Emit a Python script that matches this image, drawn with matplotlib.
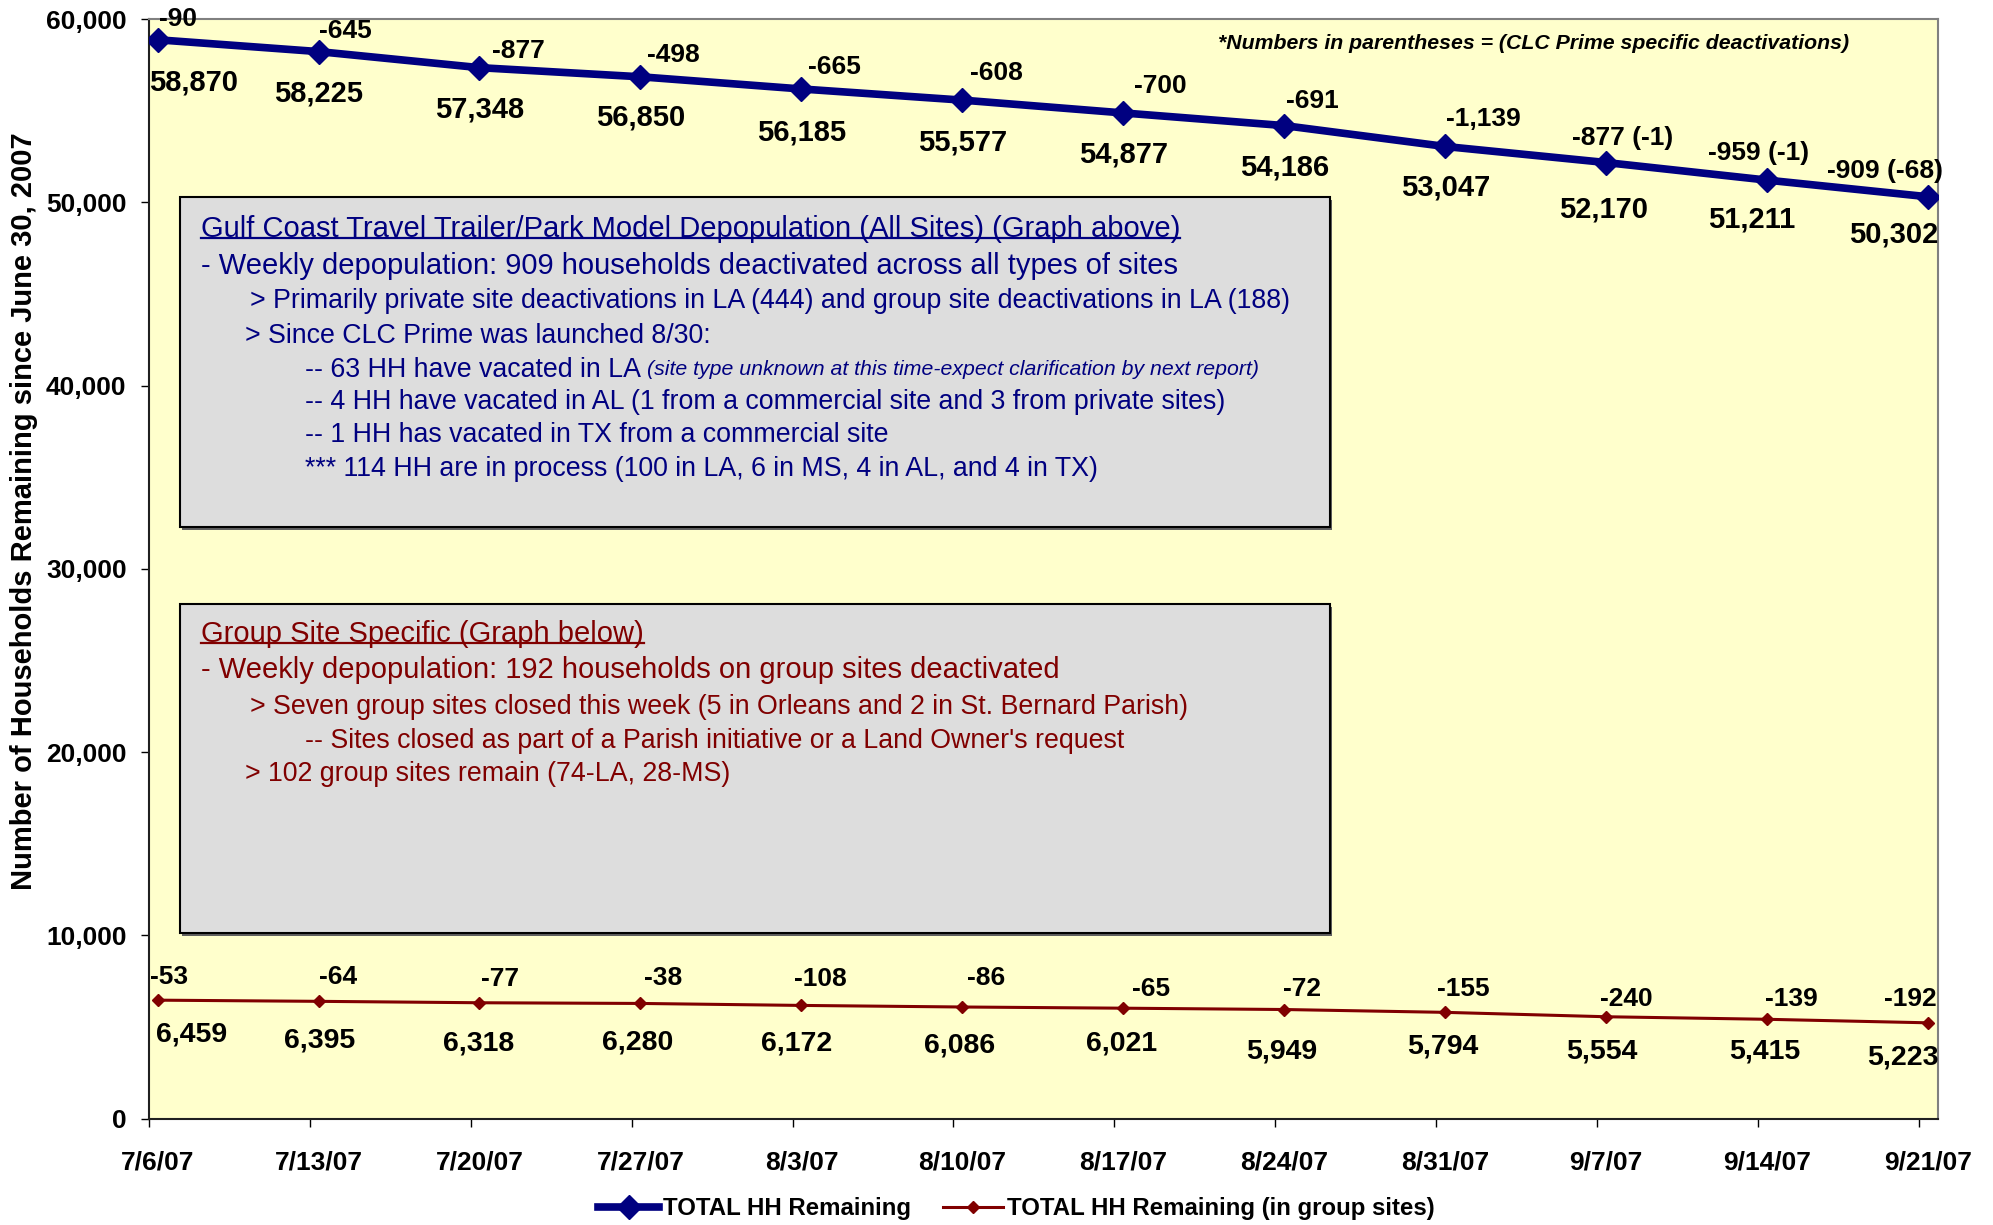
import matplotlib.pyplot as plt
from matplotlib.patches import Rectangle
from matplotlib.lines import Line2D
from matplotlib.ticker import FuncFormatter

plt.rcParams['font.family'] = ['Liberation Sans', 'DejaVu Sans']

# weekly data
weeks = ['7/6/07', '7/13/07', '7/20/07', '7/27/07', '8/3/07', '8/10/07',
         '8/17/07', '8/24/07', '8/31/07', '9/7/07', '9/14/07', '9/21/07']
total_hh = [58870, 58225, 57348, 56850, 56185, 55577,
            54877, 54186, 53047, 52170, 51211, 50302]
total_change = ['-90', '-645', '-877', '-498', '-665', '-608',
                '-700', '-691', '-1,139', '-877 (-1)', '-959 (-1)', '-909 (-68)']
group_hh = [6459, 6395, 6318, 6280, 6172, 6086,
            6021, 5949, 5794, 5554, 5415, 5223]
group_change = ['-53', '-64', '-77', '-38', '-108', '-86',
                '-65', '-72', '-155', '-240', '-139', '-192']

NAVY = '#000080'
MAROON = '#800000'
W, H = 1993, 1225
S = W / 1568  # positions below were measured on a 1568 px wide copy
DROP = 3      # digits sit a bit lower than the centre of their text box

# label offsets (dx, dy) in px of the small copy, dy positive = down
total_change_off = [(16, -19), (21, -19), (31, -16), (26, -20), (26, -20), (27, -24),
                    (29, -24), (22, -22), (30, -25), (13, -22), (-7, -24), (-34, -23)]
total_val_off = [(28, 31), (0, 30), (0, 30), (0, 29), (0, 31), (0, 30),
                 (0, 30), (0, 30), (0, 29), (-2, 34), (-12, 28), (-27, 27)]
group_change_off = [(9, -21), (15, -22), (16, -22), (18, -23), (15, -24), (19, -26),
                    (22, -18), (14, -19), (14, -21), (16, -17), (19, -19), (-14, -22)]
group_val_off = [(27, 24), (1, 28), (-1, 29), (-2, 28), (-4, 27), (-2, 27),
                 (-1, 25), (-2, 30), (-2, 24), (-3, 24), (-2, 22), (-20, 24)]


def fx(px):
    return px * S / W


def fy(py):
    return 1 - py * S / H


fig = plt.figure(figsize=(W / 100, H / 100), dpi=100)
ax = fig.add_axes([fx(117), fy(880), fx(1525) - fx(117), fy(15) - fy(880)])
ax.set_facecolor('#FFFFCC')

x = list(range(len(weeks)))
ax.plot(x, total_hh, color=NAVY, lw=5.5, marker='D', ms=12, label='TOTAL HH Remaining', zorder=3)
ax.plot(x, group_hh, color=MAROON, lw=2.2, marker='D', ms=6,
        label='TOTAL HH Remaining (in group sites)', zorder=3)

ax.set_ylim(0, 60000)
ax.set_xlim(-0.055, 11.064)
ax.set_yticks(range(0, 60001, 10000))
ax.yaxis.set_major_formatter(FuncFormatter(lambda v, p: f'{int(v):,}'))
for lab in ax.get_yticklabels():
    lab.set_fontweight('bold')
ax.tick_params(axis='y', labelsize=19, length=6, width=1, pad=10)

x0 = ax.get_xlim()[0]
ax.set_xticks([i + x0 for i in x])
ax.set_xticklabels([])
ax.set_xticks(x, minor=True)
ax.set_xticklabels(weeks, minor=True, fontsize=19, fontweight='bold')
ax.tick_params(axis='x', which='major', length=6, width=1)
ax.tick_params(axis='x', which='minor', length=0, pad=23)

for side in ['top', 'right']:
    ax.spines[side].set_color('#808080')
    ax.spines[side].set_linewidth(1.5)
for side in ['left', 'bottom']:
    ax.spines[side].set_color('#202020')
    ax.spines[side].set_linewidth(1.5)


def label(text, xv, yv, off, size):
    dx, dy = off
    ax.annotate(text, (xv, yv), xytext=(dx * S, -(dy + DROP) * S),
                textcoords='offset pixels', ha='center', va='center',
                fontsize=size, fontweight='bold')


for i in x:
    label(total_change[i], i, total_hh[i], total_change_off[i], 19)
    label(f'{total_hh[i]:,}', i, total_hh[i], total_val_off[i], 21)
    label(group_change[i], i, group_hh[i], group_change_off[i], 19)
    label(f'{group_hh[i]:,}', i, group_hh[i], group_val_off[i], 20.5)

fig.text(fx(19), fy(402), 'Number of Households Remaining since June 30, 2007',
         rotation=90, ha='center', va='center', fontsize=21, fontweight='bold')

fig.text(fx(958), fy(34), '*Numbers in parentheses = (CLC Prime specific deactivations)',
         ha='left', va='center', fontsize=15.3, fontweight='bold', style='italic')

fig.legend(loc='center', bbox_to_anchor=(fx(800), fy(951)), ncol=2, frameon=False,
           prop={'size': 17.3, 'weight': 'bold'}, handlelength=2.5, handletextpad=0.2,
           columnspacing=1.3)


def box(y_top, y_bot):
    shadow = Rectangle((fx(142) + 2 / W, fy(y_bot) - 3 / H), fx(1046) - fx(142), fy(y_top) - fy(y_bot),
                       transform=fig.transFigure, fc='#606060', ec='none', zorder=1)
    rect = Rectangle((fx(142), fy(y_bot)), fx(1046) - fx(142), fy(y_top) - fy(y_bot),
                     transform=fig.transFigure, fc='#DDDDDD', ec='black', lw=1.5, zorder=1.1)
    fig.add_artist(shadow)
    fig.add_artist(rect)


box(155, 415)
box(475, 734)

box1_lines = [
    (158, 178, 'Gulf Coast Travel Trailer/Park Model Depopulation (All Sites) (Graph above)', 21),
    (158, 207, '- Weekly depopulation: 909 households deactivated across all types of sites', 21),
    (197, 235, '> Primarily private site deactivations in LA (444) and group site deactivations in LA (188)', 19.3),
    (193, 262, '> Since CLC Prime was launched 8/30:', 19.3),
    (240, 289, '-- 63 HH have vacated in LA ', 19.3),
    (240, 314, '-- 4 HH have vacated in AL (1 from a commercial site and 3 from private sites)', 19.3),
    (240, 340, '-- 1 HH has vacated in TX from a commercial site', 19.3),
    (240, 367, '*** 114 HH are in process (100 in LA, 6 in MS, 4 in AL, and 4 in TX)', 19.3),
]
box2_lines = [
    (158, 497, 'Group Site Specific (Graph below)', 21),
    (158, 525, '- Weekly depopulation: 192 households on group sites deactivated', 21),
    (197, 554, '> Seven group sites closed this week (5 in Orleans and 2 in St. Bernard Parish)', 19.3),
    (240, 581, "-- Sites closed as part of a Parish initiative or a Land Owner's request", 19.3),
    (193, 607, '> 102 group sites remain (74-LA, 28-MS)', 19.3),
]

texts1 = [fig.text(fx(px), fy(py + 2), s, color=NAVY, fontsize=fs, ha='left', va='center', zorder=3)
          for px, py, s, fs in box1_lines]
texts2 = [fig.text(fx(px), fy(py + 2), s, color=MAROON, fontsize=fs, ha='left', va='center', zorder=3)
          for px, py, s, fs in box2_lines]

fig.canvas.draw()
renderer = fig.canvas.get_renderer()

# underline the two box titles
for t, col in [(texts1[0], NAVY), (texts2[0], MAROON)]:
    bb = t.get_window_extent(renderer)
    yl = bb.y0 + 0.17 * bb.height
    fig.add_artist(Line2D([bb.x0 / W, bb.x1 / W], [yl / H, yl / H], transform=fig.transFigure,
                          color=col, lw=1.6, zorder=3))

# italic note continues the "63 HH" line
bb = texts1[4].get_window_extent(renderer)
fig.text(bb.x1 / W, fy(291),
         '(site type unknown at this time-expect clarification by next report)',
         color=NAVY, fontsize=15.3, style='italic', ha='left', va='center', zorder=3)

fig.savefig('out.png', dpi=100)
